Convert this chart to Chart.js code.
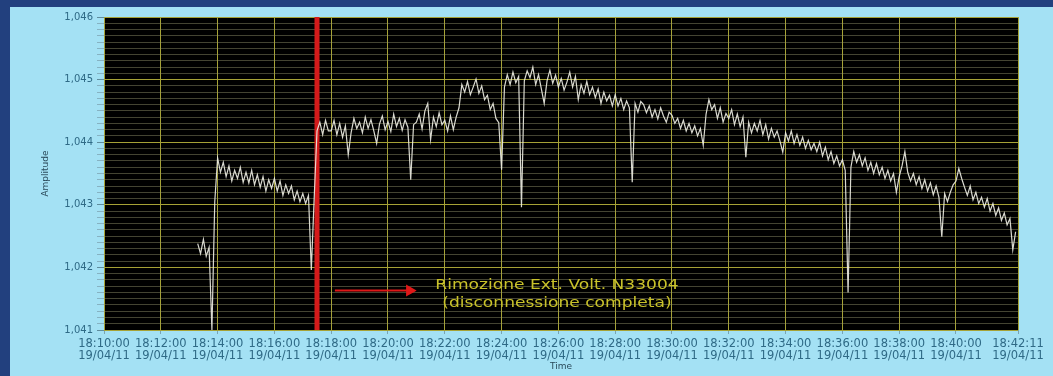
<!DOCTYPE html>
<html>
<head>
<meta charset="utf-8">
<script src="https://cdn.jsdelivr.net/npm/chart.js@4"></script>
<style>
  body { margin: 0; background: #a4e1f4; }
  canvas { display: block; }
</style>
</head>
<body>
<canvas id="myChart" width="1053" height="376"></canvas>
<script>
// x axis in minutes after 18:10:00
const tickMinutes = [0, 2, 4, 6, 8, 10, 12, 14, 16, 18, 20, 22, 24, 26, 28, 30, 32.1833];
const timeLabels = ["18:10:00", "18:12:00", "18:14:00", "18:16:00", "18:18:00", "18:20:00",
  "18:22:00", "18:24:00", "18:26:00", "18:28:00", "18:30:00", "18:32:00", "18:34:00",
  "18:36:00", "18:38:00", "18:40:00", "18:42:11"];
const dateLabel = "19/04/11";

// samples every 0.1 min starting at 3.3 min
const sampleStart = 3.3;
const sampleStep = 0.1;
const amplitude = [
  1.04238, 1.04222, 1.04245, 1.04218, 1.04232, 1.04100, 1.04305,
  1.04375, 1.04352, 1.04368, 1.04345, 1.04362, 1.04338, 1.04355, 1.04342, 1.04360, 1.04336,
  1.04352, 1.04335, 1.04355, 1.04332, 1.04348, 1.04328, 1.04345, 1.04322, 1.04340, 1.04326,
  1.04342, 1.04322, 1.04338, 1.04315, 1.04332, 1.04318, 1.04330, 1.04308, 1.04322, 1.04305,
  1.04318, 1.04302, 1.04315, 1.04196, 1.04310, 1.04418, 1.04432, 1.04412, 1.04435, 1.04418,
  1.04418, 1.04435, 1.04412, 1.04430, 1.04408, 1.04426, 1.04380, 1.04415, 1.04438, 1.04422,
  1.04432, 1.04415, 1.04440, 1.04422, 1.04436, 1.04418, 1.04398, 1.04429, 1.04442, 1.04420,
  1.04433, 1.04417, 1.04445, 1.04425, 1.04438, 1.04419, 1.04436, 1.04424, 1.04340, 1.04428,
  1.04432, 1.04445, 1.04421, 1.04450, 1.04462, 1.04404, 1.04440, 1.04425, 1.04447, 1.04428,
  1.04435, 1.04418, 1.04442, 1.04420, 1.04440, 1.04455, 1.04492, 1.04480, 1.04497, 1.04476,
  1.04488, 1.04501, 1.04478, 1.04490, 1.04468, 1.04475, 1.04452, 1.04462, 1.04438, 1.04431,
  1.04356, 1.04488, 1.04508, 1.04492, 1.04512, 1.04495, 1.04505, 1.04296, 1.04498, 1.04514,
  1.04503, 1.04520, 1.04492, 1.04508, 1.04485, 1.04462, 1.04498, 1.04515, 1.04494, 1.04507,
  1.04488, 1.04502, 1.04483, 1.04496, 1.04512, 1.04488, 1.04505, 1.04468, 1.04492, 1.04478,
  1.04497, 1.04476, 1.04488, 1.04471, 1.04485, 1.04462, 1.04480, 1.04466, 1.04475, 1.04458,
  1.04476, 1.04458, 1.04470, 1.04452, 1.04466, 1.04455, 1.04336, 1.04462, 1.04448, 1.04465,
  1.04460, 1.04447, 1.04458, 1.04440, 1.04452, 1.04437, 1.04455, 1.04442, 1.04432, 1.04448,
  1.04443, 1.04430, 1.04438, 1.04422, 1.04435, 1.04418, 1.04430, 1.04415, 1.04426, 1.04410,
  1.04422, 1.04395, 1.04445, 1.04468, 1.04452, 1.04460, 1.04438, 1.04455, 1.04432, 1.04446,
  1.04438, 1.04452, 1.04428, 1.04445, 1.04425, 1.04440, 1.04376, 1.04432, 1.04415, 1.04430,
  1.04418, 1.04435, 1.04412, 1.04428, 1.04405, 1.04422, 1.04408, 1.04418, 1.04402, 1.04384,
  1.04415, 1.04402, 1.04418, 1.04398, 1.04412, 1.04395, 1.04408, 1.04390, 1.04403, 1.04388,
  1.04398, 1.04385, 1.04400, 1.04378, 1.04392, 1.04372, 1.04385, 1.04366, 1.04378, 1.04362,
  1.04372, 1.04355, 1.04160, 1.04360, 1.04385, 1.04368, 1.04380, 1.04362, 1.04375, 1.04355,
  1.04368, 1.04350, 1.04366, 1.04348, 1.04360, 1.04342, 1.04355, 1.04338, 1.04350, 1.04320,
  1.04345, 1.04362, 1.04385, 1.04352, 1.04338, 1.04350, 1.04332, 1.04345, 1.04326, 1.04340,
  1.04322, 1.04335, 1.04316, 1.04330, 1.04312, 1.04249, 1.04318, 1.04305, 1.04320, 1.04332,
  1.04338, 1.04358, 1.04342, 1.04328, 1.04315, 1.04330, 1.04308, 1.04320, 1.04302, 1.04312,
  1.04296, 1.04310, 1.04290, 1.04302, 1.04283, 1.04295, 1.04275, 1.04287, 1.04268, 1.04278,
  1.04228, 1.04257
];

// red cursor + note
const eventTime = 7.5;
const arrowFrom = 8.13;
const arrowTo = 10.76;
const arrowLevel = 1.04163;
const noteLines = ["Rimozione Ext. Volt. N33004", "(disconnessione completa)"];
const noteTime = 15.95;
const noteLevels = [1.04172, 1.04143];

const yMin = 1.041;
const yMax = 1.046;

const isMajor = (v) => Math.round(v * 10000) % 10 === 0;

const trace = amplitude.map((v, i) => ({ x: sampleStart + i * sampleStep, y: v }));

const plotBackground = {
  id: "plotBackground",
  beforeDraw(chart) {
    const ctx = chart.ctx;
    const a = chart.chartArea;
    ctx.save();
    // frame strips
    ctx.fillStyle = "#22407e";
    ctx.fillRect(0, 0, chart.width, 7);
    ctx.fillRect(0, 0, 10, chart.height);
    ctx.fillStyle = "#000000";
    ctx.fillRect(a.left, a.top, a.right - a.left, a.bottom - a.top);
    ctx.restore();
  },
  afterDatasetsDraw(chart) {
    const ctx = chart.ctx;
    const xs = chart.scales.x;
    const ys = chart.scales.y;
    ctx.save();
    ctx.fillStyle = "#c9c22a";
    ctx.font = "14px 'DejaVu Sans'";
    ctx.textAlign = "center";
    ctx.textBaseline = "middle";
    noteLines.forEach((txt, i) => {
      ctx.save();
      ctx.translate(xs.getPixelForValue(noteTime), ys.getPixelForValue(noteLevels[i]));
      ctx.scale(1.22, 1);
      ctx.fillText(txt, 0, 0);
      ctx.restore();
    });
    ctx.restore();
  },
};

const config = {
  type: "line",
  data: {
    datasets: [
      {
        label: "Amplitude",
        data: trace,
        borderColor: "rgba(236,236,226,0.92)",
        borderWidth: 1.2,
        pointRadius: 0,
        tension: 0,
        order: 0,
      },
      {
        label: "cursor",
        data: [{ x: eventTime, y: yMin }, { x: eventTime, y: yMax }],
        borderColor: "#d41a1a",
        borderWidth: 5,
        pointRadius: 0,
        order: 1,
      },
      {
        label: "arrow",
        data: [{ x: arrowFrom, y: arrowLevel }, { x: arrowTo, y: arrowLevel }],
        borderColor: "#e01818",
        backgroundColor: "#e01818",
        borderWidth: 2,
        pointStyle: "triangle",
        pointRadius: [0, 5],
        pointRotation: 90,
        order: 2,
      },
    ],
  },
  options: {
    responsive: false,
    animation: false,
    layout: { padding: { top: 17, right: 35, left: 0, bottom: 0 } },
    plugins: {
      legend: { display: false },
      tooltip: { enabled: false },
    },
    scales: {
      x: {
        type: "linear",
        min: 0,
        max: 32.1833,
        afterBuildTicks: (scale) => {
          scale.ticks = tickMinutes.map((v) => ({ value: v }));
        },
        afterFit: (scale) => {
          scale.height = 46;
        },
        ticks: {
          autoSkip: false,
          maxRotation: 0,
          padding: 4,
          color: "#2f6a86",
          font: { family: "DejaVu Sans", size: 11.5, lineHeight: 1.05 },
          callback: (value, index) => [timeLabels[index], dateLabel],
        },
        grid: {
          color: "#a6a236",
          lineWidth: 1,
          tickLength: 4,
          tickColor: "#7aa3b3",
        },
        border: { display: false },
        title: {
          display: true,
          text: "Time",
          color: "#2a4a5a",
          font: { family: "DejaVu Sans", size: 9 },
          padding: { top: 0, bottom: 4 },
        },
      },
      y: {
        min: yMin,
        max: yMax,
        afterFit: (scale) => {
          scale.width = 104;
        },
        ticks: {
          stepSize: 0.0001,
          maxTicksLimit: 60,
          autoSkip: false,
          padding: 4,
          color: "#2f6a86",
          font: { family: "DejaVu Sans", size: 10 },
          callback: (value) => (isMajor(value) ? value.toFixed(3).replace(".", ",") : ""),
        },
        grid: {
          color: (ctx) => (isMajor(ctx.tick.value) ? "#a6a236" : "rgba(150,150,110,0.45)"),
          lineWidth: 1,
          tickLength: 7,
          tickColor: (ctx) => (isMajor(ctx.tick.value) ? "#5f8c9c" : "#86b2c2"),
        },
        border: { display: false },
        title: {
          display: true,
          text: "Amplitude",
          color: "#2a4a5a",
          font: { family: "DejaVu Sans", size: 9 },
          padding: { top: 40, bottom: 0 },
        },
      },
    },
  },
  plugins: [plotBackground],
};

const myChart = new Chart(document.getElementById("myChart"), config);
</script>
</body>
</html>
